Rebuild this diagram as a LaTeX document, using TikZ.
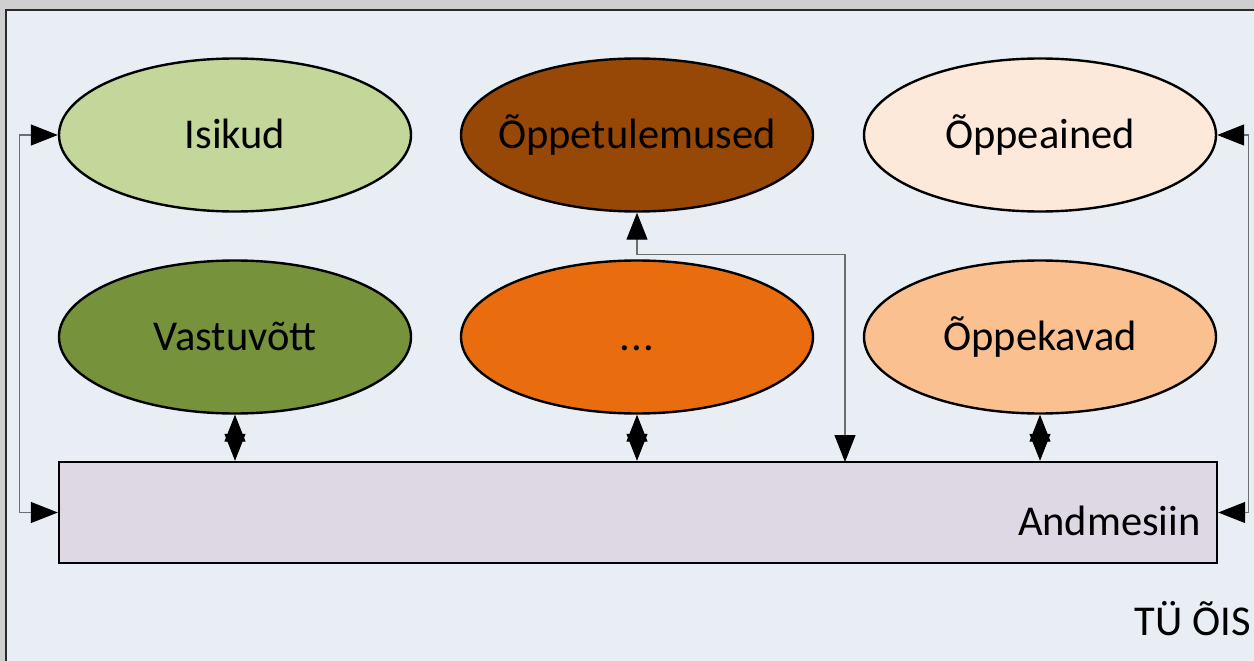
\documentclass[tikz,border=0pt]{standalone}
\usepackage{fontspec}
\setmainfont{Carlito}
\usetikzlibrary{shapes.geometric,arrows.meta}
\definecolor{bgout}{HTML}{CFCFCF}
\definecolor{panel}{HTML}{E9EEF5}
\definecolor{frameC}{HTML}{2A2A2A}
\definecolor{connC}{HTML}{6E6E6E}
\definecolor{cIsik}{HTML}{C4D79B}
\definecolor{cTul}{HTML}{974706}
\definecolor{cAine}{HTML}{FDE9D9}
\definecolor{cVast}{HTML}{76933C}
\definecolor{cDots}{HTML}{E96D0E}
\definecolor{cKava}{HTML}{FAC090}
\definecolor{cDb}{HTML}{DDD8E4}
\newcommand{\zw}[1]{\makebox[0pt]{#1}}
\tikzset{
  ell/.style={ellipse, draw=black, line width=2.4pt, minimum width=352pt, minimum height=153pt, inner sep=0pt, text height=30pt, text depth=4pt, font=\fontsize{42.5}{50}\selectfont},
  tipA/.tip={Triangle[length=27pt,width=21pt,color=black]},
  dblarrow/.style={line width=1pt, black, tipA-tipA},
  conn/.style={line width=1.2pt, connC, tipA-tipA},
  lbl/.style={anchor=base east, inner sep=0pt, font=\fontsize{42.5}{50}\selectfont},
}
\begin{document}
\begin{tikzpicture}[x=1pt,y=-1pt]
\useasboundingbox (0,0) rectangle (1254,661);
\fill[bgout] (0,0) rectangle (1254,661);
\filldraw[fill=panel, draw=frameC, line width=2.2pt] (6,10) rectangle (1270,680);
\node[ell, fill=cIsik] (isikud) at (235,135) {\zw{Isikud}};
\node[ell, fill=cTul] (tul) at (637,135) {\zw{Õppetulemused}};
\node[ell, fill=cAine] (aine) at (1040,135) {\zw{Õppeained}};
\node[ell, fill=cVast] (vast) at (235,337) {\zw{Vastuvõtt}};
\node[ell, fill=cDots] (dots) at (637,337) {\zw{.\kern1pt.\kern1pt.}};
\node[ell, fill=cKava] (kava) at (1040,337) {\zw{Õppekavad}};
\node[draw=black, line width=2.4pt, fill=cDb, minimum width=1158pt, minimum height=101pt, inner sep=0pt] (db) at (638,512.5) {};
\node[lbl] (dblabel) at (1201,535) {Andmesiin};
\node[lbl] (tuois) at (1251,635) {TÜ ÕIS};
\coordinate (dbin) at (845,462);
\draw[dblarrow] (vast.south) -- (vast.south |- db.north);
\draw[dblarrow] (dots.south) -- (dots.south |- db.north);
\draw[dblarrow] (kava.south) -- (kava.south |- db.north);
\draw[conn] (tul.south) -- ++(0,42) -| (dbin);
\draw[conn] (isikud.west) -- ++(-38,0) |- (db.west);
\draw[conn] (aine.east) -- ++(31,0) |- (db.east);
\end{tikzpicture}
\end{document}
